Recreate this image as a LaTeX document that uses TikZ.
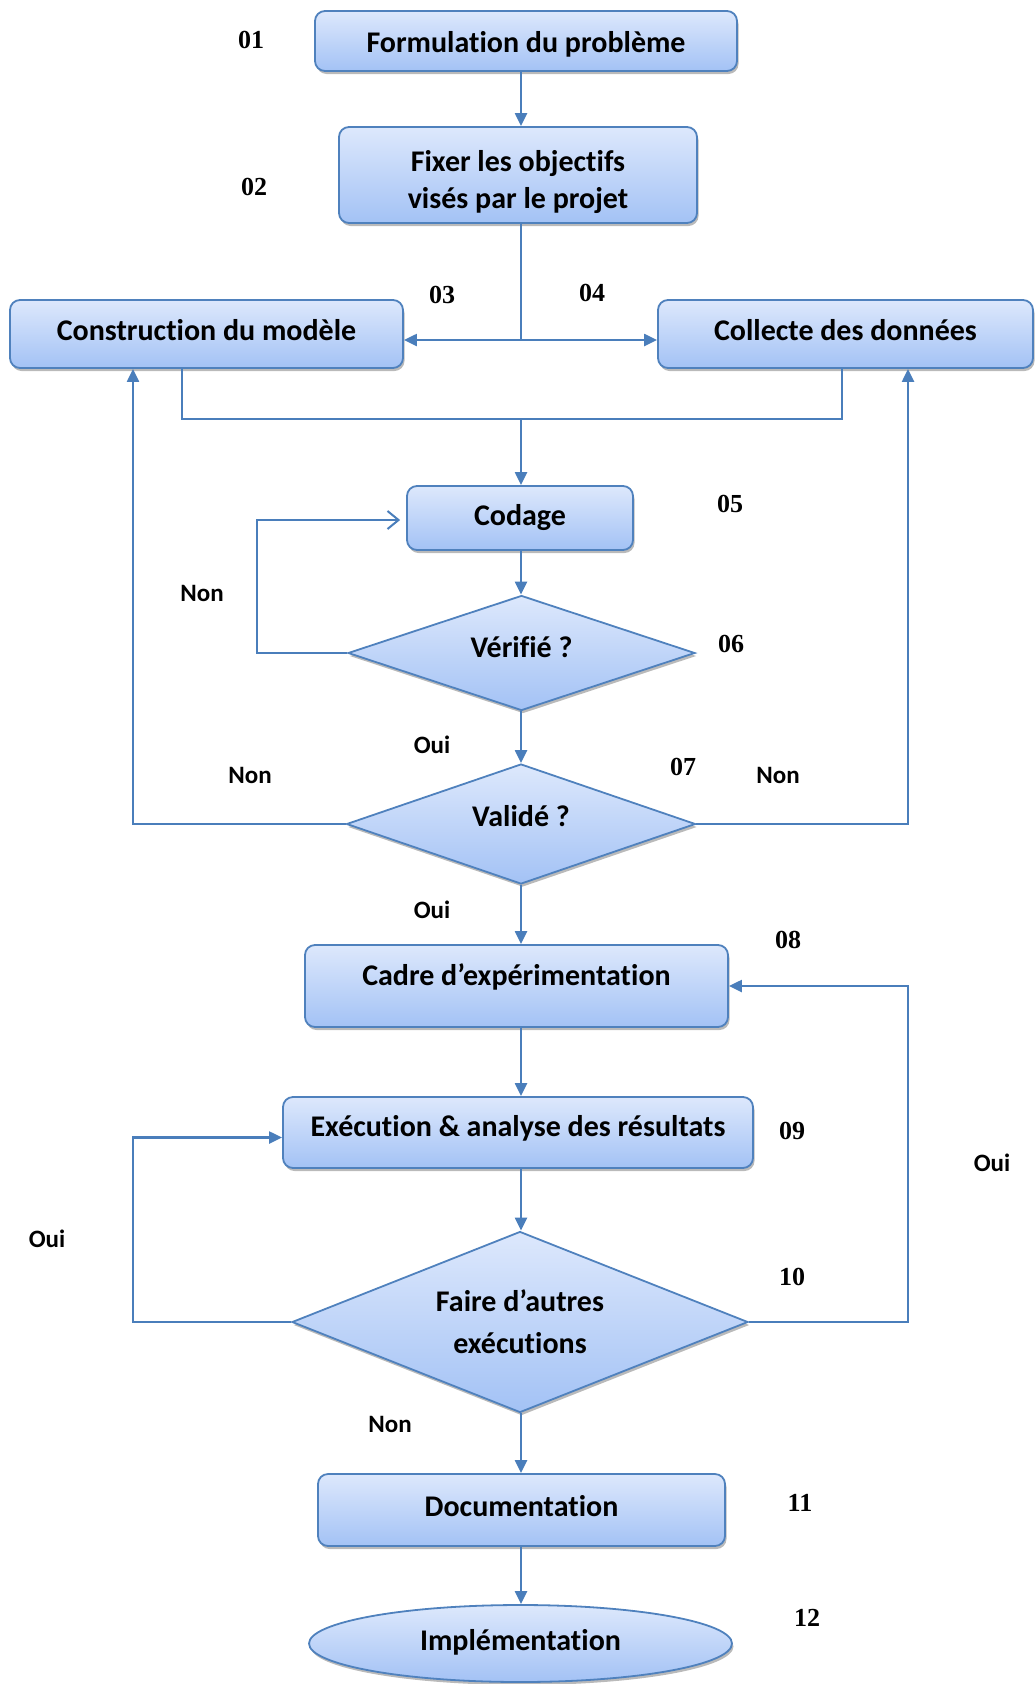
\documentclass[tikz,border=0pt]{standalone}
\usepackage{fontspec}
\setmainfont{Carlito}[Ligatures={CommonOff,RareOff}, Contextuals=AlternateOff]
\newfontfamily\numfont{Liberation Serif}
\usetikzlibrary{shapes.geometric,arrows.meta,shadows}

\definecolor{flowedge}{HTML}{4F81BD}
\definecolor{flowline}{HTML}{4A7EBB}
\definecolor{filltop}{HTML}{DDE8FC}
\definecolor{fillbot}{HTML}{A3C2F5}

\tikzset{
  base/.style={draw=flowedge, line width=1.8pt, top color=filltop, bottom color=fillbot,
    text=black, font=\fontsize{30}{37}\selectfont\bfseries,
    drop shadow={shadow xshift=1.5pt, shadow yshift=-3pt, opacity=0.45, fill=black!60}},
  stepbox/.style={base, rectangle, rounded corners=10pt, inner sep=0pt, align=center},
  decision/.style={base, diamond, inner sep=0pt, align=center, aspect=3},
  terminal/.style={base, ellipse, inner sep=0pt},
  % vertical placement of a single text line inside its shape
  tline/.style={text depth=7pt, text height=#1},
  num/.style={font=\numfont\fontsize{26}{26}\selectfont\bfseries},
  answer/.style={font=\fontsize{25}{25}\selectfont\bfseries},
  link/.style={draw=flowline, line width=2.2pt},
  arr/.style={link, -{Triangle[length=13pt,width=12pt]}},
  openarr/.style={link, -{Straight Barb[length=11pt,width=18pt,line width=2pt]}, shorten >=6pt},
}

\begin{document}
\begin{tikzpicture}[x=1pt,y=-1pt]
\useasboundingbox (0,0) rectangle (1034,1684);

% process steps
\node[stepbox, tline=29pt, minimum width=422pt, minimum height=60pt] (f1) at (526,41) {Formulation du problème};
\node[stepbox, minimum width=358pt, minimum height=96pt] (f2) at (518,175) {\rule{0pt}{36pt}Fixer les objectifs\\visés par le projet};
\node[stepbox, tline=20pt, minimum width=393pt, minimum height=68pt] (cm) at (206.5,334) {Construction du modèle};
\node[stepbox, tline=20pt, minimum width=375pt, minimum height=68pt] (cd) at (845.5,334) {Collecte des données};
\node[stepbox, tline=21pt, minimum width=226pt, minimum height=64pt] (cod) at (520,518) {Codage};
\node[decision, tline=15pt, minimum width=347pt, minimum height=115pt] (ver) at (521.5,653) {Vérifié ?};
\node[decision, tline=11pt, minimum width=349pt, minimum height=120pt] (val) at (521,824) {Validé ?};
\node[stepbox, tline=5pt, minimum width=423pt, minimum height=82pt] (cad) at (516.5,986) {Cadre d’expérimentation};
\node[stepbox, tline=15pt, minimum width=470pt, minimum height=71pt] (exe) at (518,1132.5) {Exécution \& analyse des résultats};
\node[decision, minimum width=456pt, minimum height=181pt, font=\fontsize{30}{42}\selectfont\bfseries] (fa) at (520,1322) {Faire d’autres\\exécutions};
\node[stepbox, tline=20pt, minimum width=407pt, minimum height=72pt] (doc) at (521.5,1510) {Documentation};
\node[terminal, tline=21pt, minimum width=423pt, minimum height=77pt] (imp) at (520.5,1643.5) {Implémentation};

% guide columns for the connectors
\coordinate (sp) at (521,0);
\coordinate (cmout) at (182,0);
\coordinate (cdout) at (842,0);
\coordinate (leftrail) at (133,0);
\coordinate (rightrail) at (908,0);
\coordinate (fork) at (521,340);
\coordinate (merge) at (521,419);
\coordinate (nl) at (257,520);

% connectors
\draw[arr] (f1.south -| sp) -- (f2.north -| sp);
\draw[link] (f2.south -| sp) -- (fork);
\draw[arr] (fork) -- (fork -| cm.east);
\draw[arr] (fork) -- (fork -| cd.west);
\draw[link] (cm.south -| cmout) |- (merge) -| (cd.south -| cdout);
\draw[arr] (merge) -- (cod.north -| merge);
\draw[arr] (cod.south -| sp) -- (ver.north -| sp);
\draw[openarr] (ver.west) -| (nl) -- (nl -| cod.west);
\draw[arr] (ver.south -| sp) -- (val.north -| sp);
\draw[arr] (val.west) -| (cm.south -| leftrail);
\draw[arr] (val.east) -| (cd.south -| rightrail);
\draw[arr] (val.south -| sp) -- (cad.north -| sp);
\draw[arr] (cad.south -| sp) -- (exe.north -| sp);
\draw[arr] (exe.south -| sp) -- (fa.north -| sp);
\draw[arr] (fa.west) -| ([yshift=-5pt]exe.west -| leftrail) -- ([yshift=-5pt]exe.west);
\draw[arr] (fa.east) -| (cad.east -| rightrail) -- (cad.east);
\draw[arr] (fa.south -| sp) -- (doc.north -| sp);
\draw[arr] (doc.south -| sp) -- (imp.north -| sp);

% step numbers
\node[num] (n01) at (251,40) {01};
\node[num] (n02) at (254,187) {02};
\node[num] (n03) at (442,295) {03};
\node[num] (n04) at (592,293) {04};
\node[num] (n05) at (730,504) {05};
\node[num] (n06) at (731,644) {06};
\node[num] (n07) at (683,767) {07};
\node[num] (n08) at (788,940) {08};
\node[num] (n09) at (792,1131) {09};
\node[num] (n10) at (792,1277) {10};
\node[num] (n11) at (800,1503) {11};
\node[num] (n12) at (807,1618) {12};

% answers on the branches
\node[answer] (a1) at (202,593) {Non};
\node[answer] (a2) at (432,745) {Oui};
\node[answer] (a3) at (250,775) {Non};
\node[answer] (a4) at (778,775) {Non};
\node[answer] (a5) at (432,910) {Oui};
\node[answer] (a6) at (992,1163) {Oui};
\node[answer] (a7) at (47,1239) {Oui};
\node[answer] (a8) at (390,1424) {Non};
\end{tikzpicture}
\end{document}
